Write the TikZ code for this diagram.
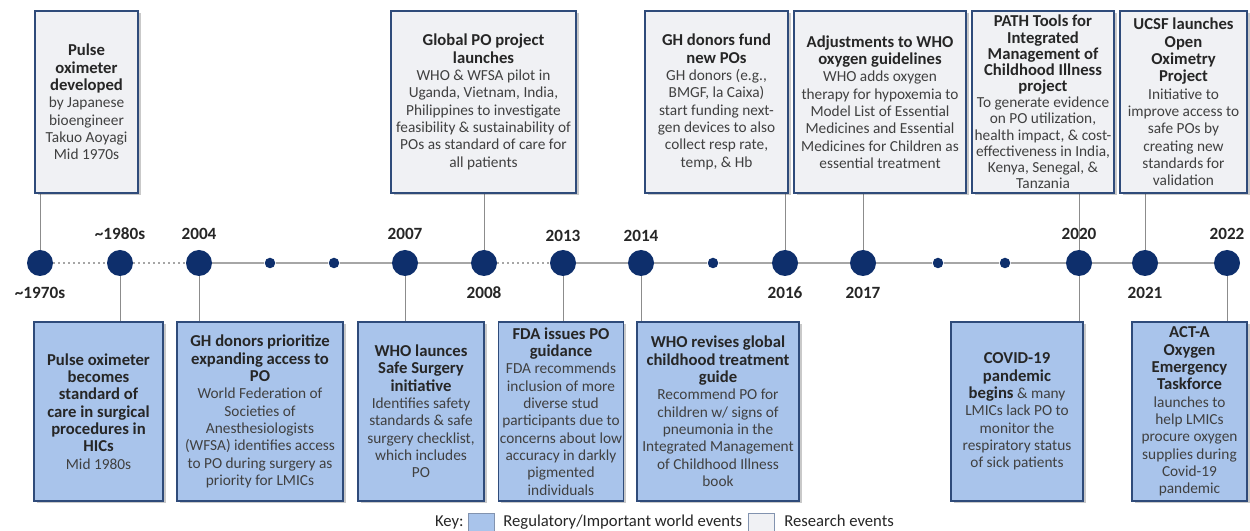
\documentclass[tikz,border=0pt]{standalone}
\usepackage{fontspec}
\setmainfont{Carlito}
\usetikzlibrary{shadows,backgrounds}
\definecolor{navy}{RGB}{14,47,108}
\definecolor{boxborder}{RGB}{47,75,122}
\definecolor{grayfill}{RGB}{240,241,244}
\definecolor{bluefill}{RGB}{169,196,235}
\definecolor{tlgray}{RGB}{166,166,166}
\definecolor{conngray}{RGB}{140,140,140}
\definecolor{titlecol}{RGB}{38,38,38}
\definecolor{bodycol}{RGB}{64,64,64}
\newcommand\tb[1]{{\fontsize{10}{\the\baselineskip}\selectfont\bfseries\color{titlecol}#1}}
\begin{document}
\begin{tikzpicture}[x=0.6pt,y=-0.6pt,
  evbox/.style={draw=boxborder, line width=0.9pt, inner sep=1pt, align=center, text=bodycol,
    font=\fontsize{9.2}{10.4}\selectfont,
    drop shadow={shadow xshift=1.5pt, shadow yshift=-1.5pt, opacity=0.3, fill=black!70}},
  research/.style={evbox, fill=grayfill, minimum height=109.2pt},
  regul/.style={evbox, fill=bluefill, minimum height=107.4pt},
  tight/.style={font=\fontsize{9.2}{9.7}\selectfont},
  big/.style={circle, fill=navy, minimum size=15.6pt, inner sep=0pt},
  small/.style={circle, fill=navy, minimum size=6.3pt, inner sep=0pt},
  yr/.style={font=\bfseries\fontsize{10.3}{12}\selectfont, text=titlecol, inner sep=0pt},
  tl/.style={draw=tlgray, line width=1pt},
  tldot/.style={tl, dotted},
  conn/.style={draw=conngray, line width=0.6pt},
  keysq/.style={draw=boxborder!60, line width=0.5pt, minimum width=15.3pt, minimum height=12pt, inner sep=0pt},
  keytxt/.style={font=\fontsize{10}{12}\selectfont, text=titlecol, inner sep=0pt}
]
\useasboundingbox (0,0) rectangle (1250,531);

% timeline points
\node[big] (c1970) at (40,263) {};
\node[big] (c1980) at (120,263) {};
\node[big] (c2004) at (199,263) {};
\node[small] (d1) at (270,263) {};
\node[small] (d2) at (334,263) {};
\node[big] (c2007) at (405,263) {};
\node[big] (c2008) at (484,263) {};
\node[big] (c2013) at (563,263) {};
\node[big] (c2014) at (641,263) {};
\node[small] (d3) at (713,263) {};
\node[big] (c2016) at (785,263) {};
\node[big] (c2017) at (863,263) {};
\node[small] (d4) at (938,263) {};
\node[small] (d5) at (1005,263) {};
\node[big] (c2020) at (1079,263) {};
\node[big] (c2021) at (1145,263) {};
\node[big] (c2022) at (1227,263) {};

% year labels
\node[yr] (y1970) at (40,293) {\textasciitilde 1970s};
\node[yr] (y1980) at (120,234) {\textasciitilde 1980s};
\node[yr] (y2004) at (199,234) {2004};
\node[yr] (y2007) at (405,234) {2007};
\node[yr] (y2008) at (484,293) {2008};
\node[yr] (y2013) at (563,236) {2013};
\node[yr] (y2014) at (641,236) {2014};
\node[yr] (y2016) at (785,293) {2016};
\node[yr] (y2017) at (863,293) {2017};
\node[yr] (y2020) at (1079,234) {2020};
\node[yr] (y2021) at (1145,293) {2021};
\node[yr] (y2022) at (1227,234) {2022};

% top research boxes
\node[research, minimum width=61.8pt] (t1) at (86.5,102) {\tb{Pulse}\\\tb{oximeter}\\\tb{developed}\\by Japanese\\bioengineer\\Takuo Aoyagi\\Mid 1970s};
\node[research, minimum width=111pt] (t2) at (483.5,102) {\tb{Global PO project}\\\tb{launches}\\WHO \& WFSA pilot in\\Uganda, Vietnam, India,\\Philippines to investigate\\feasibility \& sustainability of\\POs as standard of care for\\all patients};
\node[research, minimum width=85.8pt] (t3) at (716.5,102) {\tb{GH donors fund}\\\tb{new POs}\\GH donors (e.g.,\\BMGF, la Caixa)\\start funding next-\\gen devices to also\\collect resp rate,\\temp, \& Hb};
\node[research, minimum width=103.2pt] (t4) at (880,102) {\tb{Adjustments to WHO}\\\tb{oxygen guidelines}\\WHO adds oxygen\\therapy for hypoxemia to\\Model List of Essential\\Medicines and Essential\\Medicines for Children as\\essential treatment};
\node[research, tight, minimum width=85.2pt] (t5) at (1043,102) {\tb{PATH Tools for}\\\tb{Integrated}\\\tb{Management of}\\\tb{Childhood Illness}\\\tb{project}\\To generate evidence\\on PO utilization,\\health impact, \& cost-\\effectiveness in India,\\Kenya, Senegal, \&\\Tanzania};
\node[research, minimum width=76.2pt] (t6) at (1183.5,102) {\tb{UCSF launches}\\\tb{Open}\\\tb{Oximetry}\\\tb{Project}\\Initiative to\\improve access to\\safe POs by\\creating new\\standards for\\validation};

% bottom regulatory boxes
\node[regul, minimum width=77.4pt] (b1) at (98.5,411.5) {\tb{Pulse oximeter}\\\tb{becomes}\\\tb{standard of}\\\tb{care in surgical}\\\tb{procedures in}\\\tb{HICs}\\Mid 1980s};
\node[regul, minimum width=99.6pt] (b2) at (260,411.5) {\tb{GH donors prioritize}\\\tb{expanding access to}\\\tb{PO}\\World Federation of\\Societies of\\Anesthesiologists\\(WFSA) identifies access\\to PO during surgery as\\priority for LMICs};
\node[regul, minimum width=75.6pt] (b3) at (421,411.5) {\tb{WHO launces}\\\tb{Safe Surgery}\\\tb{initiative}\\Identifies safety\\standards \& safe\\surgery checklist,\\which includes\\PO};
\node[regul, minimum width=73.2pt] (b4) at (561,411.5) {\tb{FDA issues PO}\\\tb{guidance}\\FDA recommends\\inclusion of more\\diverse stud\\participants due to\\concerns about low\\accuracy in darkly\\pigmented\\individuals};
\node[regul, minimum width=97.2pt] (b5) at (718,411.5) {\tb{WHO revises global}\\\tb{childhood treatment}\\\tb{guide}\\Recommend PO for\\children w/ signs of\\pneumonia in the\\Integrated Management\\of Childhood Illness\\book};
\node[regul, minimum width=79.2pt] (b6) at (1017,411.5) {\tb{COVID-19}\\\tb{pandemic}\\\tb{begins} \& many\\LMICs lack PO to\\monitor the\\respiratory status\\of sick patients};
\node[regul, minimum width=69pt] (b7) at (1189.5,411.5) {\tb{ACT-A}\\\tb{Oxygen}\\\tb{Emergency}\\\tb{Taskforce}\\launches to\\help LMICs\\procure oxygen\\supplies during\\Covid-19\\pandemic};

% key
\node[keytxt, anchor=base east] (keylab) at (464,527) {Key:};
\node[keysq, fill=bluefill, anchor=north west] (kblue) at (468,513) {};
\node[keytxt, anchor=base west] (kbluet) at (503,527) {Regulatory/Important world events};
\node[keysq, fill=grayfill, anchor=north west] (kgray) at (748,513) {};
\node[keytxt, anchor=base west] (kgrayt) at (784,527) {Research events};

\begin{scope}[on background layer]
  % timeline segments
  \draw[tldot] (c1970) -- (c1980);
  \draw[tldot] (c1980) -- (c2004);
  \draw[tl] (c2004) -- (d1);
  \draw[tl] (d1) -- (d2);
  \draw[tl] (d2) -- (c2007);
  \draw[tl] (c2007) -- (c2008);
  \draw[tldot] (c2008) -- (c2013);
  \draw[tl] (c2013) -- (c2014);
  \draw[tl] (c2014) -- (d3);
  \draw[tl] (d3) -- (c2016);
  \draw[tl] (c2016) -- (c2017);
  \draw[tl] (c2017) -- (d4);
  \draw[tl] (d4) -- (d5);
  \draw[tl] (d5) -- (c2020);
  \draw[tl] (c2020) -- (c2021);
  \draw[tl] (c2021) -- (c2022);
  % connectors
  \draw[conn] (t1.south -| c1970) -- (c1970);
  \draw[conn] (t2.south -| c2008) -- (c2008);
  \draw[conn] (t3.south -| c2016) -- (c2016);
  \draw[conn] (t4.south -| c2017) -- (c2017);
  \draw[conn] (t5.south -| c2020) -- (c2020);
  \draw[conn] (t6.south -| c2021) -- (c2021);
  \draw[conn] (b1.north -| c1980) -- (c1980);
  \draw[conn] (b2.north -| c2004) -- (c2004);
  \draw[conn] (b3.north -| c2007) -- (c2007);
  \draw[conn] (b4.north -| c2013) -- (c2013);
  \draw[conn] (b5.north -| c2014) -- (c2014);
  \draw[conn] (b6.north -| c2020) -- (c2020);
  \draw[conn] (b7.north -| c2022) -- (c2022);
\end{scope}
\end{tikzpicture}
\end{document}
